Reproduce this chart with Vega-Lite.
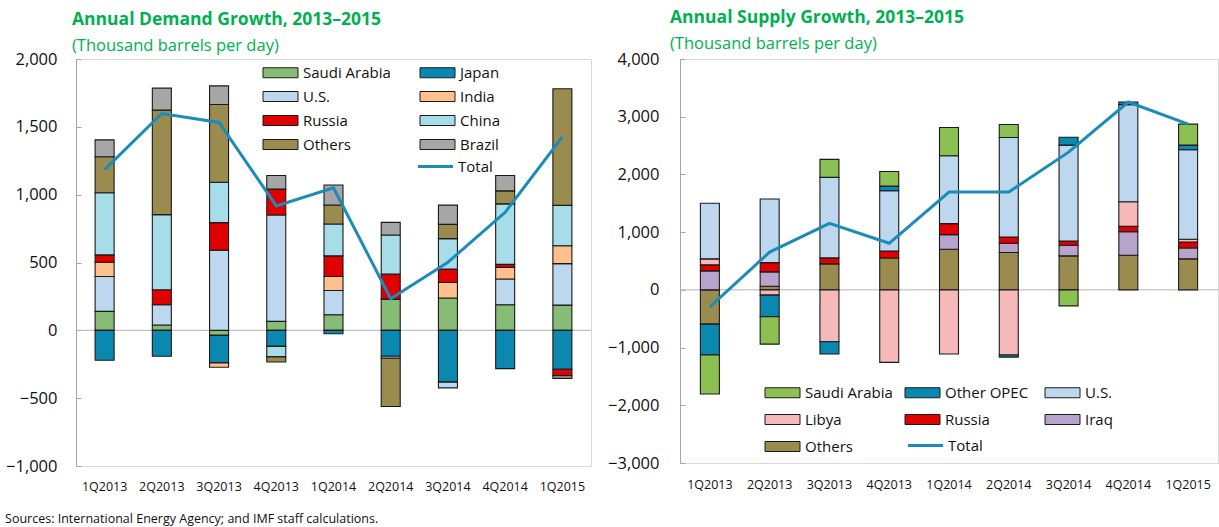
{
  "$schema": "https://vega.github.io/schema/vega-lite/v6.json",
  "padding": {"left": 5, "top": 8, "right": 0, "bottom": 0},
  "background": "white",
  "config": {
    "font": "Open Sans",
    "view": {"stroke": "#d9d9d9", "strokeWidth": 1},
    "axis": {"labelColor": "#111111", "domainColor": "#a6a6a6", "tickColor": "#a6a6a6", "grid": false, "labelFont": "Open Sans"},
    "legend": {"labelFont": "Open Sans", "labelColor": "#111111"},
    "title": {"font": "Open Sans"},
    "concat": {"spacing": 15}
  },
  "title": {"text": "Sources: International Energy Agency; and IMF staff calculations.", "orient": "bottom", "anchor": "start", "frame": "bounds", "fontSize": 12.5, "fontWeight": "normal", "color": "#111111", "offset": 20},
  "datasets": {
    "demandSeries": [
      {"country": "Saudi Arabia", "rank": 1},
      {"country": "Japan", "rank": 2},
      {"country": "U.S.", "rank": 3},
      {"country": "India", "rank": 4},
      {"country": "Russia", "rank": 5},
      {"country": "China", "rank": 6},
      {"country": "Others", "rank": 7},
      {"country": "Brazil", "rank": 8}
    ],
    "supplySeries": [
      {"country": "Others", "rank": 1},
      {"country": "Iraq", "rank": 2},
      {"country": "Russia", "rank": 3},
      {"country": "Libya", "rank": 4},
      {"country": "U.S.", "rank": 5},
      {"country": "Other OPEC", "rank": 6},
      {"country": "Saudi Arabia", "rank": 7}
    ],
    "demand": [
      {"quarter": "1Q2013", "country": "Saudi Arabia", "value": 140},
      {"quarter": "1Q2013", "country": "Japan", "value": -220},
      {"quarter": "1Q2013", "country": "U.S.", "value": 257},
      {"quarter": "1Q2013", "country": "India", "value": 105},
      {"quarter": "1Q2013", "country": "Russia", "value": 54},
      {"quarter": "1Q2013", "country": "China", "value": 458},
      {"quarter": "1Q2013", "country": "Others", "value": 265},
      {"quarter": "1Q2013", "country": "Brazil", "value": 125},
      {"quarter": "2Q2013", "country": "Saudi Arabia", "value": 39},
      {"quarter": "2Q2013", "country": "Japan", "value": -191},
      {"quarter": "2Q2013", "country": "U.S.", "value": 150},
      {"quarter": "2Q2013", "country": "Russia", "value": 110},
      {"quarter": "2Q2013", "country": "China", "value": 554},
      {"quarter": "2Q2013", "country": "Others", "value": 770},
      {"quarter": "2Q2013", "country": "Brazil", "value": 162},
      {"quarter": "3Q2013", "country": "Saudi Arabia", "value": -37},
      {"quarter": "3Q2013", "country": "Japan", "value": -203},
      {"quarter": "3Q2013", "country": "U.S.", "value": 591},
      {"quarter": "3Q2013", "country": "India", "value": -32},
      {"quarter": "3Q2013", "country": "Russia", "value": 203},
      {"quarter": "3Q2013", "country": "China", "value": 297},
      {"quarter": "3Q2013", "country": "Others", "value": 574},
      {"quarter": "3Q2013", "country": "Brazil", "value": 137},
      {"quarter": "4Q2013", "country": "Saudi Arabia", "value": 66},
      {"quarter": "4Q2013", "country": "Japan", "value": -118},
      {"quarter": "4Q2013", "country": "U.S.", "value": 784},
      {"quarter": "4Q2013", "country": "Russia", "value": 191},
      {"quarter": "4Q2013", "country": "China", "value": -78},
      {"quarter": "4Q2013", "country": "Others", "value": -37},
      {"quarter": "4Q2013", "country": "Brazil", "value": 100},
      {"quarter": "1Q2014", "country": "Saudi Arabia", "value": 115},
      {"quarter": "1Q2014", "country": "Japan", "value": -25},
      {"quarter": "1Q2014", "country": "U.S.", "value": 179},
      {"quarter": "1Q2014", "country": "India", "value": 103},
      {"quarter": "1Q2014", "country": "Russia", "value": 152},
      {"quarter": "1Q2014", "country": "China", "value": 235},
      {"quarter": "1Q2014", "country": "Others", "value": 140},
      {"quarter": "1Q2014", "country": "Brazil", "value": 147},
      {"quarter": "2Q2014", "country": "Saudi Arabia", "value": 230},
      {"quarter": "2Q2014", "country": "Japan", "value": -191},
      {"quarter": "2Q2014", "country": "U.S.", "value": -15},
      {"quarter": "2Q2014", "country": "Russia", "value": 184},
      {"quarter": "2Q2014", "country": "China", "value": 289},
      {"quarter": "2Q2014", "country": "Others", "value": -355},
      {"quarter": "2Q2014", "country": "Brazil", "value": 93},
      {"quarter": "3Q2014", "country": "Saudi Arabia", "value": 238},
      {"quarter": "3Q2014", "country": "Japan", "value": -382},
      {"quarter": "3Q2014", "country": "U.S.", "value": -42},
      {"quarter": "3Q2014", "country": "India", "value": 115},
      {"quarter": "3Q2014", "country": "Russia", "value": 98},
      {"quarter": "3Q2014", "country": "China", "value": 225},
      {"quarter": "3Q2014", "country": "Others", "value": 105},
      {"quarter": "3Q2014", "country": "Brazil", "value": 142},
      {"quarter": "4Q2014", "country": "Saudi Arabia", "value": 189},
      {"quarter": "4Q2014", "country": "Japan", "value": -282},
      {"quarter": "4Q2014", "country": "U.S.", "value": 189},
      {"quarter": "4Q2014", "country": "India", "value": 86},
      {"quarter": "4Q2014", "country": "Russia", "value": 22},
      {"quarter": "4Q2014", "country": "China", "value": 446},
      {"quarter": "4Q2014", "country": "Others", "value": 96},
      {"quarter": "4Q2014", "country": "Brazil", "value": 113},
      {"quarter": "1Q2015", "country": "Saudi Arabia", "value": 186},
      {"quarter": "1Q2015", "country": "Japan", "value": -287},
      {"quarter": "1Q2015", "country": "U.S.", "value": 306},
      {"quarter": "1Q2015", "country": "India", "value": 132},
      {"quarter": "1Q2015", "country": "Russia", "value": -47},
      {"quarter": "1Q2015", "country": "China", "value": 297},
      {"quarter": "1Q2015", "country": "Others", "value": 860},
      {"quarter": "1Q2015", "country": "Brazil", "value": -20}
    ],
    "demandTotal": [
      {"quarter": "1Q2013", "total": 1185},
      {"quarter": "2Q2013", "total": 1598},
      {"quarter": "3Q2013", "total": 1532},
      {"quarter": "4Q2013", "total": 917},
      {"quarter": "1Q2014", "total": 1051},
      {"quarter": "2Q2014", "total": 233},
      {"quarter": "3Q2014", "total": 502},
      {"quarter": "4Q2014", "total": 870},
      {"quarter": "1Q2015", "total": 1426}
    ],
    "supply": [
      {"quarter": "1Q2013", "country": "Others", "value": -594},
      {"quarter": "1Q2013", "country": "Iraq", "value": 329},
      {"quarter": "1Q2013", "country": "Russia", "value": 104},
      {"quarter": "1Q2013", "country": "Libya", "value": 104},
      {"quarter": "1Q2013", "country": "U.S.", "value": 963},
      {"quarter": "1Q2013", "country": "Other OPEC", "value": -536},
      {"quarter": "1Q2013", "country": "Saudi Arabia", "value": -674},
      {"quarter": "2Q2013", "country": "Others", "value": 63},
      {"quarter": "2Q2013", "country": "Iraq", "value": 248},
      {"quarter": "2Q2013", "country": "Russia", "value": 161},
      {"quarter": "2Q2013", "country": "Libya", "value": -92},
      {"quarter": "2Q2013", "country": "U.S.", "value": 1101},
      {"quarter": "2Q2013", "country": "Other OPEC", "value": -375},
      {"quarter": "2Q2013", "country": "Saudi Arabia", "value": -473},
      {"quarter": "3Q2013", "country": "Others", "value": 450},
      {"quarter": "3Q2013", "country": "Russia", "value": 104},
      {"quarter": "3Q2013", "country": "Libya", "value": -899},
      {"quarter": "3Q2013", "country": "U.S.", "value": 1395},
      {"quarter": "3Q2013", "country": "Other OPEC", "value": -213},
      {"quarter": "3Q2013", "country": "Saudi Arabia", "value": 311},
      {"quarter": "4Q2013", "country": "Others", "value": 553},
      {"quarter": "4Q2013", "country": "Russia", "value": 121},
      {"quarter": "4Q2013", "country": "Libya", "value": -1257},
      {"quarter": "4Q2013", "country": "U.S.", "value": 1043},
      {"quarter": "4Q2013", "country": "Other OPEC", "value": 81},
      {"quarter": "4Q2013", "country": "Saudi Arabia", "value": 254},
      {"quarter": "1Q2014", "country": "Others", "value": 703},
      {"quarter": "1Q2014", "country": "Iraq", "value": 254},
      {"quarter": "1Q2014", "country": "Russia", "value": 190},
      {"quarter": "1Q2014", "country": "Libya", "value": -1112},
      {"quarter": "1Q2014", "country": "U.S.", "value": 1176},
      {"quarter": "1Q2014", "country": "Saudi Arabia", "value": 490},
      {"quarter": "2Q2014", "country": "Others", "value": 646},
      {"quarter": "2Q2014", "country": "Iraq", "value": 161},
      {"quarter": "2Q2014", "country": "Russia", "value": 110},
      {"quarter": "2Q2014", "country": "Libya", "value": -1130},
      {"quarter": "2Q2014", "country": "U.S.", "value": 1723},
      {"quarter": "2Q2014", "country": "Other OPEC", "value": -35},
      {"quarter": "2Q2014", "country": "Saudi Arabia", "value": 225},
      {"quarter": "3Q2014", "country": "Others", "value": 588},
      {"quarter": "3Q2014", "country": "Iraq", "value": 184},
      {"quarter": "3Q2014", "country": "Russia", "value": 75},
      {"quarter": "3Q2014", "country": "U.S.", "value": 1660},
      {"quarter": "3Q2014", "country": "Other OPEC", "value": 138},
      {"quarter": "3Q2014", "country": "Saudi Arabia", "value": -277},
      {"quarter": "4Q2014", "country": "Others", "value": 599},
      {"quarter": "4Q2014", "country": "Iraq", "value": 409},
      {"quarter": "4Q2014", "country": "Russia", "value": 92},
      {"quarter": "4Q2014", "country": "Libya", "value": 427},
      {"quarter": "4Q2014", "country": "U.S.", "value": 1683},
      {"quarter": "4Q2014", "country": "Other OPEC", "value": 46},
      {"quarter": "1Q2015", "country": "Others", "value": 536},
      {"quarter": "1Q2015", "country": "Iraq", "value": 190},
      {"quarter": "1Q2015", "country": "Russia", "value": 104},
      {"quarter": "1Q2015", "country": "Libya", "value": 46},
      {"quarter": "1Q2015", "country": "U.S.", "value": 1551},
      {"quarter": "1Q2015", "country": "Other OPEC", "value": 81},
      {"quarter": "1Q2015", "country": "Saudi Arabia", "value": 363}
    ],
    "supplyTotal": [
      {"quarter": "1Q2013", "total": -294},
      {"quarter": "2Q2013", "total": 655},
      {"quarter": "3Q2013", "total": 1153},
      {"quarter": "4Q2013", "total": 807},
      {"quarter": "1Q2014", "total": 1695},
      {"quarter": "2Q2014", "total": 1695},
      {"quarter": "3Q2014", "total": 2386},
      {"quarter": "4Q2014", "total": 3255},
      {"quarter": "1Q2015", "total": 2870}
    ]
  },
  "resolve": {"scale": {"color": "independent", "stroke": "independent", "x": "independent", "y": "independent"}, "legend": {"color": "independent", "stroke": "independent"}},
  "hconcat": [
    {
      "width": 515,
      "height": 407,
      "title": {"text": "Annual Demand Growth, 2013–2015", "subtitle": "(Thousand barrels per day)", "anchor": "start", "frame": "group", "dx": -4, "color": "#00B050", "subtitleColor": "#00B050", "fontSize": 17.5, "fontWeight": "bold", "subtitleFontSize": 16.5, "subtitleFont": "Open Sans", "subtitlePadding": 9, "offset": -3},
      "layer": [
        {
          "data": {"values": [{"zero": 0}]},
          "mark": {"type": "rule", "color": "#b3b3b3", "strokeWidth": 1},
          "encoding": {"y": {"field": "zero", "type": "quantitative"}}
        },
        {
          "data": {"name": "demand"},
          "transform": [{"lookup": "country", "from": {"data": {"name": "demandSeries"}, "key": "country", "fields": ["rank"]}}],
          "mark": {"type": "bar", "stroke": "#1a1a1a", "strokeWidth": 1.1, "width": 19},
          "encoding": {
            "x": {"field": "quarter", "type": "ordinal", "scale": {"domain": ["1Q2013", "2Q2013", "3Q2013", "4Q2013", "1Q2014", "2Q2014", "3Q2014", "4Q2014", "1Q2015"], "paddingInner": 0, "paddingOuter": 0}, "axis": {"title": null, "domain": false, "ticks": false, "labelAngle": 0, "labelFontSize": 12.5, "labelPadding": 14}},
            "y": {"field": "value", "type": "quantitative", "stack": "zero", "scale": {"domain": [-1000, 2000], "nice": false}, "axis": {"title": null, "values": [-1000, -500, 0, 500, 1000, 1500, 2000], "format": ",.0f", "labelFontSize": 16.5, "tickSize": -5, "labelPadding": 24}},
            "order": {"field": "rank", "type": "quantitative", "sort": "ascending"},
            "color": {
              "field": "country", "type": "nominal",
              "scale": {"domain": ["Saudi Arabia", "Japan", "U.S.", "India", "Russia", "China", "Others", "Brazil"], "range": ["#86bc76", "#0a88b0", "#bdd7ee", "#ffc08e", "#e00000", "#a6dde8", "#9a8b4f", "#a6a6a6"]},
              "legend": {"orient": "none", "legendX": 197, "legendY": 6, "columns": 2, "direction": "horizontal", "title": null, "gridAlign": "all", "symbolType": "M-3.5,-1L3.5,-1L3.5,1L-3.5,1Z", "symbolSize": 100, "symbolStrokeColor": "#1a1a1a", "symbolStrokeWidth": 1, "symbolOpacity": 1, "labelFontSize": 15, "labelOffset": 15, "rowPadding": 8, "columnPadding": 27}
            }
          }
        },
        {
          "data": {"name": "demandTotal"},
          "mark": {"type": "line", "strokeWidth": 3},
          "encoding": {
            "x": {"field": "quarter", "type": "ordinal"},
            "y": {"field": "total", "type": "quantitative"},
            "stroke": {"datum": "Total", "type": "nominal", "scale": {"range": ["#1b8bb9"]}, "legend": {"orient": "none", "legendX": 352, "legendY": 100, "title": null, "symbolType": "M-3.5,0L3.5,0", "symbolSize": 100, "symbolStrokeWidth": 3, "labelFontSize": 15, "labelOffset": 15}}
          }
        }
      ]
    },
    {
      "width": 538,
      "height": 404,
      "title": {"text": "Annual Supply Growth, 2013–2015", "subtitle": "(Thousand barrels per day)", "anchor": "start", "frame": "group", "dx": -10, "color": "#00B050", "subtitleColor": "#00B050", "fontSize": 17.5, "fontWeight": "bold", "subtitleFontSize": 16.5, "subtitleFont": "Open Sans", "subtitlePadding": 9, "offset": -1},
      "layer": [
        {
          "data": {"values": [{"zero": 0}]},
          "mark": {"type": "rule", "color": "#b3b3b3", "strokeWidth": 1},
          "encoding": {"y": {"field": "zero", "type": "quantitative"}}
        },
        {
          "data": {"name": "supply"},
          "transform": [{"lookup": "country", "from": {"data": {"name": "supplySeries"}, "key": "country", "fields": ["rank"]}}],
          "mark": {"type": "bar", "stroke": "#1a1a1a", "strokeWidth": 1.1, "width": 19},
          "encoding": {
            "x": {"field": "quarter", "type": "ordinal", "scale": {"domain": ["1Q2013", "2Q2013", "3Q2013", "4Q2013", "1Q2014", "2Q2014", "3Q2014", "4Q2014", "1Q2015"], "paddingInner": 0, "paddingOuter": 0}, "axis": {"title": null, "domain": false, "ticks": false, "labelAngle": 0, "labelFontSize": 12.5, "labelPadding": 15}},
            "y": {"field": "value", "type": "quantitative", "stack": "zero", "scale": {"domain": [-3000, 4000], "nice": false}, "axis": {"title": null, "values": [-3000, -2000, -1000, 0, 1000, 2000, 3000, 4000], "format": ",.0f", "labelFontSize": 16.5, "tickSize": -5, "labelPadding": 26}},
            "order": {"field": "rank", "type": "quantitative", "sort": "ascending"},
            "color": {
              "field": "country", "type": "nominal",
              "scale": {"domain": ["Saudi Arabia", "Other OPEC", "U.S.", "Libya", "Russia", "Iraq", "Others"], "range": ["#8cc052", "#0a88b0", "#bdd7ee", "#f5b9b9", "#e00000", "#b7a3cc", "#9a8b4f"]},
              "legend": {"orient": "none", "legendX": 95, "legendY": 326, "columns": 3, "direction": "horizontal", "title": null, "gridAlign": "all", "symbolType": "M-3.5,-1L3.5,-1L3.5,1L-3.5,1Z", "symbolSize": 100, "symbolStrokeColor": "#1a1a1a", "symbolStrokeWidth": 1, "symbolOpacity": 1, "labelFontSize": 15, "labelOffset": 15, "rowPadding": 11, "columnPadding": 10}
            }
          }
        },
        {
          "data": {"name": "supplyTotal"},
          "mark": {"type": "line", "strokeWidth": 3},
          "encoding": {
            "x": {"field": "quarter", "type": "ordinal"},
            "y": {"field": "total", "type": "quantitative"},
            "stroke": {"datum": "Total", "type": "nominal", "scale": {"range": ["#1b8bb9"]}, "legend": {"orient": "none", "legendX": 238, "legendY": 379, "title": null, "symbolType": "M-3.5,0L3.5,0", "symbolSize": 100, "symbolStrokeWidth": 3, "labelFontSize": 15, "labelOffset": 15}}
          }
        }
      ]
    }
  ]
}
